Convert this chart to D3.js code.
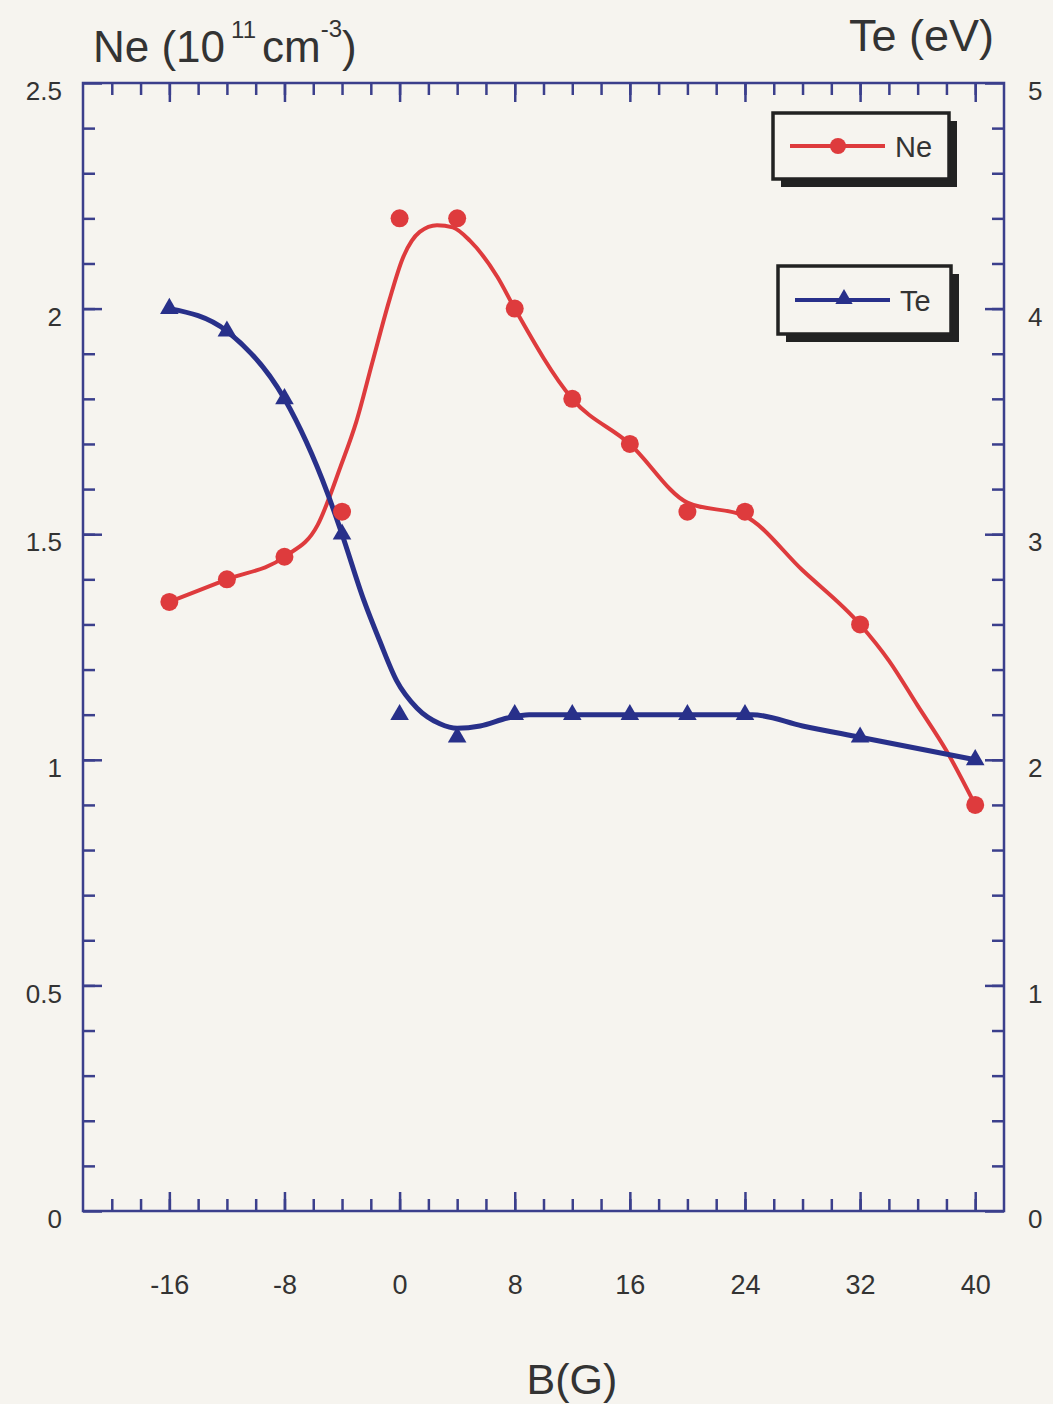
<!DOCTYPE html>
<html>
<head>
<meta charset="utf-8">
<script src="https://cdn.jsdelivr.net/npm/d3@7"></script>
<style>
  html, body { margin: 0; padding: 0; background: #f6f4ef; }
  svg { display: block; }
  text { font-family: "Liberation Sans", Arial, sans-serif; fill: #333; }
</style>
</head>
<body>
<div id="chart"></div>
<script>
// measured points
const bValues = [-16, -12, -8, -4, 0, 4, 8, 12, 16, 20, 24, 32, 40];
const neValues = [1.35, 1.40, 1.45, 1.55, 2.20, 2.20, 2.00, 1.80, 1.70, 1.55, 1.55, 1.30, 0.90];
const teValues = [4.0, 3.9, 3.6, 3.0, 2.2, 2.1, 2.2, 2.2, 2.2, 2.2, 2.2, 2.1, 2.0];

// fitted curves (they don't go through every point)
const neFitB = [-16, -12, -8, -5.7, -4.1, -3, -1.9, -0.7, 0.2, 1.4, 2.6, 3.7, 4.9, 6.8, 8, 12, 16, 20, 24, 28, 32, 34, 36, 38, 40];
const neFitV = [1.35, 1.40, 1.45, 1.52, 1.65, 1.75, 1.88, 2.02, 2.11, 2.17, 2.185, 2.18, 2.15, 2.07, 2.0, 1.80, 1.70, 1.57, 1.54, 1.42, 1.30, 1.22, 1.12, 1.02, 0.90];
const teFitB = [-16, -12, -8, -5, -4, -2.5, -1.4, -0.2, 1.2, 2.8, 4, 5.6, 7.5, 9, 16, 24.5, 28, 32, 40];
const teFitV = [4.0, 3.9, 3.6, 3.18, 3.0, 2.71, 2.53, 2.35, 2.23, 2.16, 2.14, 2.15, 2.185, 2.2, 2.2, 2.2, 2.15, 2.1, 2.0];

// tick labels
const xTicks = [-16, -8, 0, 8, 16, 24, 32, 40];
const neTicks = [0, 0.5, 1, 1.5, 2, 2.5];
const teTicks = [0, 1, 2, 3, 4, 5];

const W = 1053, H = 1404;
const margin = { top: 83, left: 83, right: 49, bottom: 193 };
const width = W - margin.left - margin.right;
const height = H - margin.top - margin.bottom;

const axisColor = '#3b3f8c';
const red = '#de3b3d';
const blue = '#28308a';

const svg = d3.select('#chart').append('svg')
  .attr('width', W)
  .attr('height', H);

svg.append('rect').attr('width', W).attr('height', H).attr('fill', '#f6f4ef');

const chart = svg.append('g')
  .attr('transform', `translate(${margin.left}, ${margin.top})`);

// scales
const x = d3.scaleLinear().domain([-22, 42]).range([0, width]);
const yNe = d3.scaleLinear().domain([0, 2.5]).range([height, 0]);
const yTe = d3.scaleLinear().domain([0, 5]).range([height, 0]);

const majorLen = 19, minorLen = 12;
const plain = d => String(d);

function styleAxis(g, size) {
  g.select('.domain').remove();
  g.selectAll('.tick line').attr('stroke', axisColor).attr('stroke-width', 2.5);
  g.selectAll('.tick text')
    .style('font-size', (size || 26) + 'px')
    .attr('fill', '#333');
}

// bottom axis
chart.append('g')
  .attr('transform', `translate(0, ${height})`)
  .call(d3.axisBottom(x).tickValues(d3.range(-20, 42, 2)).tickSize(-minorLen).tickFormat(''))
  .call(styleAxis);
chart.append('g')
  .attr('transform', `translate(0, ${height})`)
  .call(d3.axisBottom(x).tickValues(xTicks).tickSize(-majorLen).tickPadding(64).tickFormat(plain))
  .call(styleAxis, 27);

// top axis (ticks only)
chart.append('g')
  .call(d3.axisTop(x).tickValues(d3.range(-20, 42, 2)).tickSize(-minorLen).tickFormat(''))
  .call(styleAxis);
chart.append('g')
  .call(d3.axisTop(x).tickValues(xTicks).tickSize(-majorLen).tickFormat(''))
  .call(styleAxis);

// left axis
chart.append('g')
  .call(d3.axisLeft(yNe).tickValues(d3.range(0.1, 2.5, 0.1)).tickSize(-minorLen).tickFormat(''))
  .call(styleAxis);
chart.append('g')
  .call(d3.axisLeft(yNe).tickValues(neTicks).tickSize(-majorLen).tickPadding(21).tickFormat(plain))
  .call(styleAxis, 26)
  .call(g => g.selectAll('.tick text').attr('dy', '0.64em'));

// right axis
chart.append('g')
  .attr('transform', `translate(${width}, 0)`)
  .call(d3.axisRight(yTe).tickValues(d3.range(0.2, 5, 0.2)).tickSize(-minorLen).tickFormat(''))
  .call(styleAxis);
chart.append('g')
  .attr('transform', `translate(${width}, 0)`)
  .call(d3.axisRight(yTe).tickValues(teTicks).tickSize(-majorLen).tickPadding(24).tickFormat(plain))
  .call(styleAxis, 26)
  .call(g => g.selectAll('.tick text').attr('dy', '0.64em'));

// frame
chart.append('rect')
  .attr('width', width)
  .attr('height', height)
  .attr('fill', 'none')
  .attr('stroke', axisColor)
  .attr('stroke-width', 2.5);

// curves
const neFit = neFitB.map((b, i) => ({ b: b, v: neFitV[i] }));
const teFit = teFitB.map((b, i) => ({ b: b, v: teFitV[i] }));

chart.append('path')
  .datum(neFit)
  .attr('fill', 'none')
  .attr('stroke', red)
  .attr('stroke-width', 4)
  .attr('d', d3.line().x(d => x(d.b)).y(d => yNe(d.v)).curve(d3.curveMonotoneX));

chart.append('path')
  .datum(teFit)
  .attr('fill', 'none')
  .attr('stroke', blue)
  .attr('stroke-width', 5)
  .attr('d', d3.line().x(d => x(d.b)).y(d => yTe(d.v)).curve(d3.curveMonotoneX));

// markers
chart.selectAll('.ne-pt')
  .data(bValues)
  .enter()
  .append('circle')
  .attr('class', 'ne-pt')
  .attr('cx', d => x(d))
  .attr('cy', (d, i) => yNe(neValues[i]))
  .attr('r', 9)
  .attr('fill', red);

const tri = d3.symbol(d3.symbolTriangle, 150);
chart.selectAll('.te-pt')
  .data(bValues)
  .enter()
  .append('path')
  .attr('class', 'te-pt')
  .attr('transform', (d, i) => `translate(${x(d)}, ${yTe(teValues[i])})`)
  .attr('d', tri)
  .attr('fill', blue);

// axis titles
const neTitle = svg.append('text')
  .attr('x', 93)
  .attr('y', 62)
  .style('font-size', '44px');
neTitle.append('tspan').text('Ne (10');
neTitle.append('tspan').attr('dx', 6).attr('dy', -24).style('font-size', '24px').text('11');
neTitle.append('tspan').attr('dx', 6).attr('dy', 24).text('cm');
neTitle.append('tspan').attr('dy', -25).style('font-size', '24px').text('-3');
neTitle.append('tspan').attr('dy', 25).text(')');

svg.append('text')
  .attr('x', 994)
  .attr('y', 51)
  .attr('text-anchor', 'end')
  .style('font-size', '45px')
  .text('Te (eV)');

svg.append('text')
  .attr('x', 572)
  .attr('y', 1394)
  .attr('text-anchor', 'middle')
  .style('font-size', '43px')
  .text('B(G)');

// legend boxes
function legendBox(bx, by, bw, bh, color, label, marker) {
  const g = svg.append('g').attr('transform', `translate(${bx}, ${by})`);
  g.append('rect').attr('x', 8).attr('y', 8).attr('width', bw).attr('height', bh).attr('fill', '#222');
  g.append('rect').attr('width', bw).attr('height', bh)
    .attr('fill', '#f6f4ef').attr('stroke', '#222').attr('stroke-width', 3.5);
  const cy = bh / 2;
  g.append('line').attr('x1', 17).attr('x2', 112).attr('y1', cy).attr('y2', cy)
    .attr('stroke', color).attr('stroke-width', 4);
  if (marker === 'circle') {
    g.append('circle').attr('cx', 65).attr('cy', cy).attr('r', 8).attr('fill', color);
  } else {
    g.append('path').attr('transform', `translate(66, ${cy - 1})`)
      .attr('d', d3.symbol(d3.symbolTriangle, 130)).attr('fill', color);
  }
  g.append('text').attr('x', 122).attr('y', cy + 11)
    .style('font-size', '29px').attr('fill', color).text(label);
}
legendBox(773, 113, 176, 66, red, 'Ne', 'circle');
legendBox(778, 266, 173, 68, blue, 'Te', 'triangle');
</script>
</body>
</html>
